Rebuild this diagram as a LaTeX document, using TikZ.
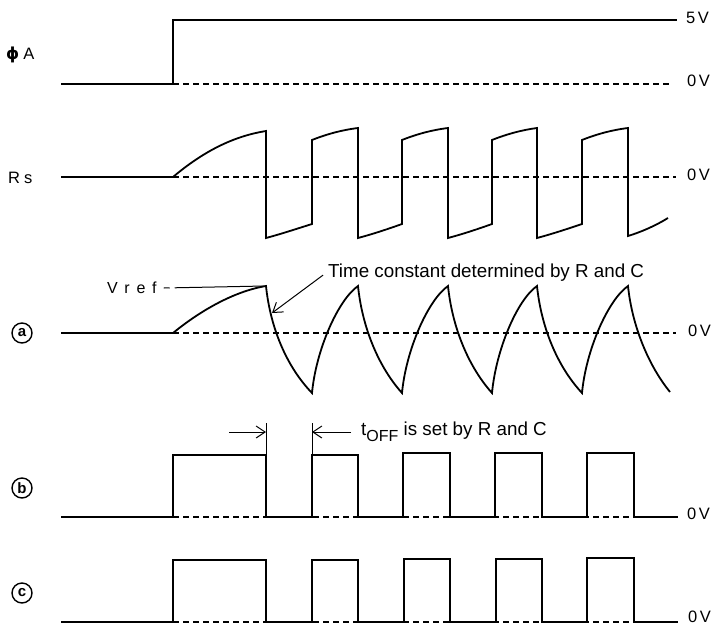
\documentclass[tikz,border=0pt]{standalone}
\usepackage{fontspec}
\setmainfont{Liberation Sans}
\newfontfamily\dejavu{DejaVu Sans}
\usetikzlibrary{arrows.meta}
\begin{document}
\begin{tikzpicture}[x=1pt,y=-1pt,
  wave/.style={line width=1.8pt, line join=miter},
  zero/.style={line width=1.1pt, dash pattern=on 6pt off 4pt},
  thin/.style={line width=1pt},
  arr/.style={thin, -{Straight Barb[length=9pt,width=12pt]}},
  lbl/.style={inner sep=0pt, font=\fontsize{16.5}{16.5}\selectfont},
  volt/.style={lbl, anchor=west},
  ann/.style={inner sep=0pt, anchor=base west, font=\fontsize{18.8}{19}\selectfont},
  circ/.style={circle, draw, line width=1.4pt, inner sep=0pt, minimum size=20pt, font=\bfseries\fontsize{15}{15}\selectfont}]
\useasboundingbox (0,0) rectangle (712,627);

% ---------- phi A ----------
\node[lbl, anchor=west] (lphi) at (6,55) {{\dejavu\bfseries ϕ}\kern4pt A};
\draw[zero] (173,84) -- (672,84);
\draw[wave] (61,84) -- (173,84) -- (173,20) -- (677,20);
\node[volt] (v5) at (686,18) {5\kern2.5pt V};
\node[volt] (v0a) at (687,81) {0\kern2.5pt V};

% ---------- Rs ----------
\node[lbl, anchor=west] (lrs) at (8,178) {R\kern4pt s};
\draw[zero] (173,177) -- (676,177);
\draw[wave] (61,177) -- (173,177) .. controls (205,150) and (235,136) .. (266,131)
  -- (266,238) .. controls (281,234) and (296,229) .. (312,224)
  -- (312,140) .. controls (327,134) and (342,130) .. (358,128)
  -- (358,238) .. controls (373,234) and (388,229) .. (402,224)
  -- (402,140) .. controls (417,134) and (432,130) .. (448,128)
  -- (448,238) .. controls (463,234) and (478,229) .. (492,224)
  -- (492,140) .. controls (507,134) and (522,130) .. (537,128)
  -- (537,238) .. controls (552,234) and (567,229) .. (582,224)
  -- (582,140) .. controls (597,134) and (612,130) .. (628,128)
  -- (628,236) .. controls (641,232) and (655,226) .. (668,218);
\node[volt] (v0b) at (687,175) {0\kern2.5pt V};

% ---------- (a) ----------
\node[circ] (la) at (22,333) {a};
\draw[zero] (173,333) -- (676,333);
\draw[wave] (61,333) -- (173,333) .. controls (195,315) and (230,292) .. (266,286)
  .. controls (270,325) and (285,365) .. (312,393)
  .. controls (316,350) and (338,300) .. (358,286)
  .. controls (362,325) and (377,365) .. (402,393)
  .. controls (406,350) and (428,300) .. (448,286)
  .. controls (452,325) and (467,365) .. (492,393)
  .. controls (496,350) and (517,300) .. (537,286)
  .. controls (541,325) and (556,365) .. (582,393)
  .. controls (586,350) and (608,300) .. (628,286)
  .. controls (632,325) and (648,365) .. (670,392);
\node[volt] (v0c) at (688,331) {0\kern2.5pt V};
\node[lbl, anchor=west, font=\fontsize{16}{16}\selectfont] (vref) at (107,288) {V\kern6.5pt r\kern7pt e\kern6.5pt f};
\coordinate (vrefend) at (265,286);
\draw[thin, dash pattern=on 6pt off 5pt on 120pt] ([xshift=7pt]vref.east) -- (vrefend);
\node[ann] (tc) at (328,277) {Time constant determined by R and C};
\coordinate (tcend) at (272,313);
\draw[arr] ([xshift=-5pt,yshift=-3pt]tc.west) -- (tcend);

% ---------- (b) ----------
\node[circ] (lb) at (22,488) {b};
\draw[zero] (173,517) -- (634,517);
\draw[wave] (61,517) -- (173,517) -- (173,455) -- (266,455) -- (266,517)
  -- (312,517) -- (312,455) -- (358,455) -- (358,517)
  -- (403,517) -- (403,453) -- (450,453) -- (450,517)
  -- (495,517) -- (495,453) -- (542,453) -- (542,517)
  -- (587,517) -- (587,453) -- (634,453) -- (634,517) -- (678,517);
\node[volt] (v0d) at (687,514) {0\kern2.5pt V};
\coordinate (extL) at (266,423);
\coordinate (extR) at (312,423);
\draw[thin] (266,455) -- (extL);
\draw[thin] (312,455) -- (extR);
\coordinate (offL) at (266,432);
\coordinate (offR) at (312,432);
\coordinate (tailL) at (229,432);
\coordinate (tailR) at (351,432);
\draw[arr] (tailL) -- (offL);
\draw[arr] (tailR) -- (offR);
\node[ann] (toff) at (361,435) {t\raisebox{-6.5pt}{\fontsize{16}{16}\selectfont OFF} is set by R and C};

% ---------- (c) ----------
\node[circ] (lc) at (22,593) {c};
\draw[zero] (173,622) -- (634,622);
\draw[wave] (61,622) -- (173,622) -- (173,560) -- (266,560) -- (266,622)
  -- (312,622) -- (312,560) -- (358,560) -- (358,622)
  -- (404,622) -- (404,559) -- (450,559) -- (450,622)
  -- (496,622) -- (496,559) -- (542,559) -- (542,622)
  -- (587,622) -- (587,558) -- (634,558) -- (634,622) -- (678,622);
\node[volt] (v0e) at (688,617) {0\kern2.5pt V};
\end{tikzpicture}
\end{document}
